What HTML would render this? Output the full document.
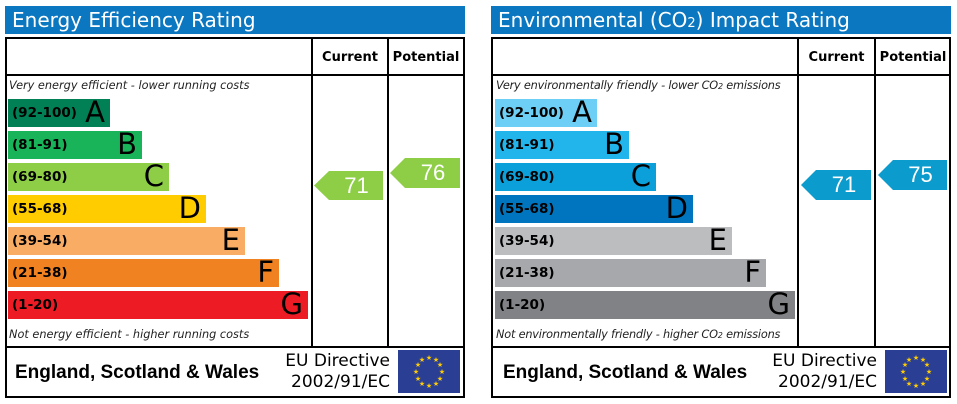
<!DOCTYPE html>
<html><head><meta charset="utf-8"><style>
body{margin:0;width:957px;height:404px;background:#fff;position:relative;overflow:hidden;font-family:"DejaVu Sans","Liberation Sans",sans-serif}
.a{position:absolute}
.title{background:#0a77c0;color:#fff;font-size:20px;line-height:28px;padding-left:7px;box-sizing:border-box;height:28px;top:6px;width:460px}
.box{border:2px solid #000;top:37px;width:460px;height:361px;box-sizing:border-box}
.vl{width:2px;background:#000;top:37px;height:311px}
.hl{height:2px;background:#000;width:460px}
.hd{font-weight:bold;font-size:13px;top:50px;text-align:center}
.bar{height:28px;left:0}
.bar .r{position:absolute;left:4px;top:6px;font-size:13.5px;font-weight:bold;color:#000}
.bar .l{position:absolute;right:5px;top:-4px;font-size:29px;color:#000}
.it{font-style:italic;font-size:11.3px;color:#222;white-space:nowrap}
.arr svg{display:block}
.arr span{position:absolute;left:16px;right:0;top:2px;text-align:center;color:#fff;font-family:"Liberation Sans",sans-serif;font-size:22px}
.esw{font-family:"Liberation Sans",sans-serif;font-weight:bold;font-size:19px;top:362px}
.eu{font-size:17px;text-align:right;line-height:21px;top:351px}
.flag{background:#2a3f94;width:62px;height:43px;top:350px}
</style></head><body>

<!-- LEFT -->
<div class="a title" style="left:5px">Energy Efficiency Rating</div>
<div class="a box" style="left:5px"></div>
<div class="a vl" style="left:311px"></div>
<div class="a vl" style="left:387px"></div>
<div class="a hl" style="left:5px;top:74px"></div>
<div class="a hl" style="left:5px;top:346px"></div>
<div class="a hd" style="left:313px;width:74px">Current</div>
<div class="a hd" style="left:389px;width:74px">Potential</div>
<div class="a it" style="left:9px;top:79px">Very energy efficient - lower running costs</div>
<div class="a it" style="left:9px;top:328px">Not energy efficient - higher running costs</div>
<div class="a bar" style="left:8px;top:99px;width:102px;background:#008054"><span class="r">(92-100)</span><span class="l">A</span></div>
<div class="a bar" style="left:8px;top:131px;width:134px;background:#19b459"><span class="r">(81-91)</span><span class="l">B</span></div>
<div class="a bar" style="left:8px;top:163px;width:161px;background:#8dce46"><span class="r">(69-80)</span><span class="l">C</span></div>
<div class="a bar" style="left:8px;top:195px;width:198px;background:#ffcc00"><span class="r">(55-68)</span><span class="l">D</span></div>
<div class="a bar" style="left:8px;top:227px;width:237px;background:#f9ac64"><span class="r">(39-54)</span><span class="l">E</span></div>
<div class="a bar" style="left:8px;top:259px;width:271px;background:#f08222"><span class="r">(21-38)</span><span class="l">F</span></div>
<div class="a bar" style="left:8px;top:291px;width:300px;background:#ed1c24"><span class="r">(1-20)</span><span class="l">G</span></div>
<div class="a arr" style="left:314px;top:171px;width:69px;height:29px"><svg width="69" height="29"><polygon points="0,14.5 15,0 69,0 69,29 15,29" fill="#8dce46"/></svg><span>71</span></div>
<div class="a arr" style="left:390px;top:158px;width:70px;height:30px"><svg width="70" height="30"><polygon points="0,15 15,0 70,0 70,30 15,30" fill="#8dce46"/></svg><span>76</span></div>
<div class="a esw" style="left:15px">England, Scotland &amp; Wales</div>
<div class="a eu" style="left:250px;width:140px">EU Directive<br>2002/91/EC</div>
<div class="a flag" style="left:398px"><svg width="62" height="43"><g fill="#fc0" font-size="7" text-anchor="middle"><text x="31" y="10">★</text><text x="38" y="12">★</text><text x="42" y="17">★</text><text x="44" y="24">★</text><text x="42" y="31">★</text><text x="38" y="36">★</text><text x="31" y="38">★</text><text x="24" y="36">★</text><text x="20" y="31">★</text><text x="18" y="24">★</text><text x="20" y="17">★</text><text x="24" y="12">★</text></g></svg></div>

<!-- RIGHT -->
<div class="a title" style="left:491px">Environmental (CO<span style="font-size:13px">2</span>) Impact Rating</div>
<div class="a box" style="left:491px"></div>
<div class="a vl" style="left:797px"></div>
<div class="a vl" style="left:874px"></div>
<div class="a hl" style="left:491px;top:74px"></div>
<div class="a hl" style="left:491px;top:346px"></div>
<div class="a hd" style="left:799px;width:75px">Current</div>
<div class="a hd" style="left:876px;width:74px">Potential</div>
<div class="a it" style="left:496px;top:79px;letter-spacing:-0.2px">Very environmentally friendly - lower CO<span style="font-size:8px">2</span> emissions</div>
<div class="a it" style="left:496px;top:328px;letter-spacing:-0.2px">Not environmentally friendly - higher CO<span style="font-size:8px">2</span> emissions</div>
<div class="a bar" style="left:495px;top:99px;width:102px;background:#6dcff6"><span class="r">(92-100)</span><span class="l">A</span></div>
<div class="a bar" style="left:495px;top:131px;width:134px;background:#22b5eb"><span class="r">(81-91)</span><span class="l">B</span></div>
<div class="a bar" style="left:495px;top:163px;width:161px;background:#0ba0d9"><span class="r">(69-80)</span><span class="l">C</span></div>
<div class="a bar" style="left:495px;top:195px;width:198px;background:#0075bf"><span class="r">(55-68)</span><span class="l">D</span></div>
<div class="a bar" style="left:495px;top:227px;width:237px;background:#bbbdbf"><span class="r">(39-54)</span><span class="l">E</span></div>
<div class="a bar" style="left:495px;top:259px;width:271px;background:#a6a8ab"><span class="r">(21-38)</span><span class="l">F</span></div>
<div class="a bar" style="left:495px;top:291px;width:300px;background:#818285"><span class="r">(1-20)</span><span class="l">G</span></div>
<div class="a arr" style="left:801px;top:170px;width:70px;height:30px"><svg width="70" height="30"><polygon points="0,15 15,0 70,0 70,30 15,30" fill="#0b9bcc"/></svg><span>71</span></div>
<div class="a arr" style="left:878px;top:160px;width:69px;height:30px"><svg width="69" height="30"><polygon points="0,15 15,0 69,0 69,30 15,30" fill="#0b9bcc"/></svg><span>75</span></div>
<div class="a esw" style="left:503px">England, Scotland &amp; Wales</div>
<div class="a eu" style="left:737px;width:140px">EU Directive<br>2002/91/EC</div>
<div class="a flag" style="left:885px"><svg width="62" height="43"><g fill="#fc0" font-size="7" text-anchor="middle"><text x="31" y="10">★</text><text x="38" y="12">★</text><text x="42" y="17">★</text><text x="44" y="24">★</text><text x="42" y="31">★</text><text x="38" y="36">★</text><text x="31" y="38">★</text><text x="24" y="36">★</text><text x="20" y="31">★</text><text x="18" y="24">★</text><text x="20" y="17">★</text><text x="24" y="12">★</text></g></svg></div>
</body></html>
